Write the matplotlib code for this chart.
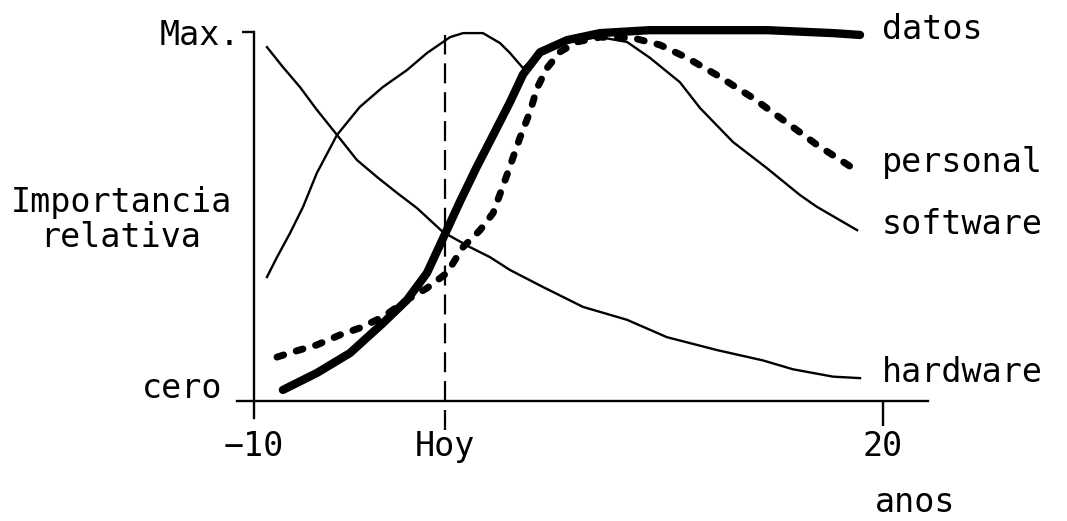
import matplotlib
matplotlib.use("Agg")
import matplotlib.pyplot as plt

# values (x in years, y in % of "Max.")
HOY = -0.9

hw_x = [-9.38, -8.62, -7.81, -7.00, -6.04, -5.09, -4.13, -3.18, -2.23, -0.99, 0.30,
        1.25, 2.21, 3.78, 5.69, 7.79, 9.69, 12.08, 14.27, 15.70, 17.61, 18.90]
hw_y = [95.9, 90.5, 85.1, 78.9, 72.1, 65.3, 60.7, 56.4, 52.3, 45.8, 41.7,
        39.0, 35.5, 30.9, 25.5, 22.0, 17.3, 13.8, 11.0, 8.6, 6.6, 6.2]

sw_x = [-9.38, -8.90, -8.28, -7.66, -7.00, -6.04, -4.95, -3.85, -2.70, -1.75, -0.65,
        -0.03, 0.92, 1.73, 2.21, 2.83, 3.64, 4.59, 6.50, 7.79, 8.88, 10.31, 11.27,
        12.84, 14.46, 16.04, 16.85, 18.76]
sw_y = [33.6, 39.0, 45.5, 52.6, 61.8, 72.1, 79.7, 85.1, 89.7, 94.3, 98.6,
        99.7, 99.7, 97.0, 94.3, 90.2, 94.6, 97.3, 98.6, 97.3, 93.0, 86.4, 79.4,
        70.2, 63.1, 55.8, 52.6, 46.3]

dat_x = [-8.62, -7.00, -5.42, -3.85, -2.70, -1.75, -0.99, -0.18, 0.63, 1.40, 2.21,
         2.83, 3.64, 4.93, 6.50, 8.88, 14.46, 17.61, 18.90]
dat_y = [3.0, 7.6, 13.0, 21.1, 27.4, 34.7, 44.0, 54.0, 63.5, 72.0, 81.0,
         88.5, 94.5, 97.8, 99.7, 100.5, 100.5, 99.7, 99.2]

per_x = [-8.90, -8.14, -7.00, -5.90, -4.95, -3.85, -2.70, -1.75, -0.80, -0.03, 0.78,
         1.40, 2.06, 2.68, 3.16, 3.50, 3.97, 4.59, 5.40, 6.50, 8.07, 9.36, 10.65,
         12.08, 13.80, 15.56, 16.85, 18.56]
per_y = [11.9, 13.3, 15.2, 17.9, 19.8, 22.8, 27.4, 30.6, 34.7, 41.7, 46.3,
         50.9, 61.2, 71.3, 78.3, 84.8, 90.2, 94.6, 97.3, 98.6, 98.4, 96.5, 93.0,
         88.3, 82.1, 74.8, 69.4, 63.1]

xticks = [-10, HOY, 20]
xticklabels = ['\u221210', 'Hoy', '20']
names = ['datos', 'personal', 'software', 'hardware']

FONT = 'DejaVu Sans Mono'
FS = 24

fig = plt.figure(figsize=(10.67, 5.21), dpi=100)
ax = fig.add_axes([0.2221, 0.1595, 0.6476, 0.8145])
ax.set_xlim(-10.81, 22.14)
ax.set_ylim(-10, 105)

# thin curves
ax.plot(hw_x, hw_y, color='black', lw=1.7, solid_joinstyle='round')
ax.plot(sw_x, sw_y, color='black', lw=1.7, solid_joinstyle='round')
# thick curves
ax.plot(per_x, per_y, color='black', lw=5, linestyle=(0, (1.0, 1.9)),
        dash_capstyle='round', dash_joinstyle='round')
ax.plot(dat_x, dat_y, color='black', lw=6, solid_capstyle='round',
        solid_joinstyle='round')

# "Hoy" marker
ax.vlines(HOY, -7.9, 99.2, color='black', lw=1.6, linestyles=(0, (9, 4)), clip_on=False)

# axes crossing inside the frame
for s in ['top', 'right']:
    ax.spines[s].set_visible(False)
ax.spines['left'].set_position(('data', -10))
ax.spines['left'].set_bounds(-4.6, 100)
ax.spines['bottom'].set_position(('data', 0))
ax.spines['left'].set_linewidth(1.7)
ax.spines['bottom'].set_linewidth(1.7)

ax.set_xticks(xticks)
ax.set_xticklabels(xticklabels, fontfamily=FONT, fontsize=FS)
ax.tick_params(axis='x', direction='out', length=18, width=1.7, pad=3)
ticks = ax.xaxis.get_major_ticks()
ticks[0].tick1line.set_visible(False)
ticks[1].tick1line.set_visible(False)

ax.set_yticks([100])
ax.set_yticklabels(['Max.'], fontfamily=FONT, fontsize=FS)
ax.tick_params(axis='y', direction='out', length=9, width=1.7, pad=1)

ax.text(-11.53, 3.5, 'cero', ha='right', va='center', fontfamily=FONT, fontsize=FS,
        clip_on=False)
ax.text(-16.34, 49, 'Importancia\nrelativa', ha='center', va='center', fontfamily=FONT,
        fontsize=FS, linespacing=1.1, clip_on=False)
ax.text(21.52, -27.6, 'anos', ha='center', va='center', fontfamily=FONT, fontsize=FS,
        clip_on=False)

# series names at the right end of each curve
ends = [dat_y[-1], per_y[-1], sw_y[-1], hw_y[-1]]
for name, yv in zip(names, ends):
    ax.text(19.95, yv + 1.5, name, ha='left', va='center', fontfamily=FONT,
            fontsize=FS, clip_on=False)

fig.savefig('out.png', dpi=100)
